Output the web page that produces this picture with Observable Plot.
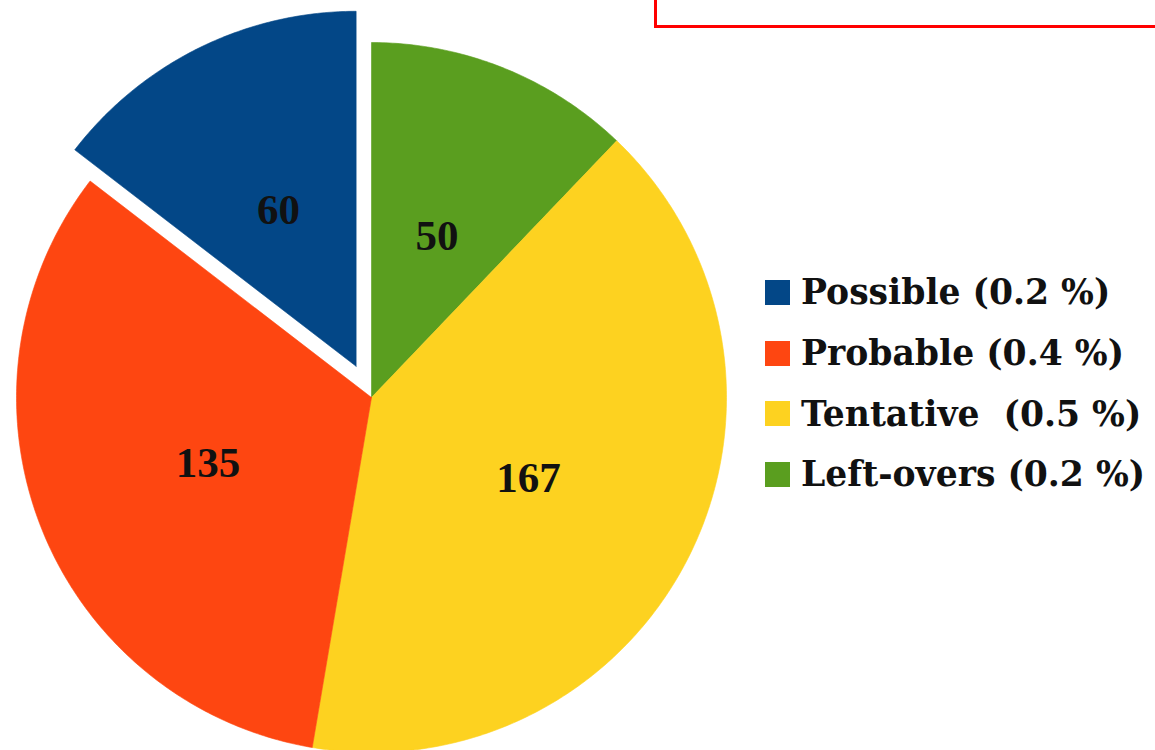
<!DOCTYPE html>
<html>
<head>
<meta charset="utf-8">
<script src="https://cdn.jsdelivr.net/npm/d3@7"></script>
<script src="https://cdn.jsdelivr.net/npm/@observablehq/plot@0.6"></script>
<style>
  body { margin: 0; background: #fff; }
  #wrap { position: relative; width: 1155px; height: 750px; overflow: hidden; }
  #box { position: absolute; left: 654px; top: -10px; width: 520px; height: 32px; border: 3px solid #ff0000; box-sizing: content-box; }
  #legend { position: absolute; left: 765px; top: 262px; font-family: "DejaVu Serif", serif; font-weight: bold; font-size: 34.6px; color: #111; }
  .row { display: flex; align-items: center; height: 60.7px; white-space: pre; }
  .sw { width: 25px; height: 25px; margin-right: 11px; }
</style>
</head>
<body>
<div id="wrap">
  <div id="chart"></div>
  <div id="box"></div>
  <div id="legend"></div>
</div>
<script>
// Data (clockwise from 12 o'clock)
const categories = ["Left-overs", "Tentative", "Probable", "Possible"];
const values = [50, 167, 135, 60];
const colors = ["#5a9e1f", "#fdd220", "#fe4611", "#034787"];
const explode = [0, 0, 0, 0.098];
// Legend order and texts
const legendOrder = ["Possible", "Probable", "Tentative", "Left-overs"];
const legendText = ["Possible (0.2 %)", "Probable (0.4 %)", "Tentative  (0.5 %)", "Left-overs (0.2 %)"];

const arcs = d3.pie().sort(null).value(d => d)(values);
const polys = [];
const labels = [];
arcs.forEach((a, i) => {
  const mid = (a.startAngle + a.endAngle) / 2;
  const ox = explode[i] * Math.sin(mid), oy = explode[i] * Math.cos(mid);
  const n = Math.max(2, Math.ceil((a.endAngle - a.startAngle) / 0.01));
  polys.push({key: categories[i], x: ox, y: oy});
  for (let k = 0; k <= n; k++) {
    const t = a.startAngle + (a.endAngle - a.startAngle) * k / n;
    polys.push({key: categories[i], x: ox + Math.sin(t), y: oy + Math.cos(t)});
  }
  polys.push({key: categories[i], x: ox, y: oy});
  labels.push({key: categories[i], value: values[i], x: ox + 0.495 * Math.sin(mid), y: oy + 0.495 * Math.cos(mid)});
});

const R = 355, CX = 371, CY = 397, W = 1155, H = 750;
const chart = Plot.plot({
  width: W, height: H,
  margin: 0,
  x: {domain: [-CX / R, (W - CX) / R], range: [0, W], axis: null},
  y: {domain: [-(H - CY) / R, CY / R], range: [H, 0], axis: null},
  color: {domain: categories, range: colors},
  style: {background: "white", overflow: "visible"},
  marks: [
    Plot.line(polys, {x: "x", y: "y", z: "key", fill: "key", stroke: "key", strokeWidth: 0.6, curve: "linear"}),
    Plot.text(labels, {x: "x", y: "y", dy: 2, text: d => String(d.value), fill: "#111", fontSize: 43, fontWeight: "bold", fontFamily: "Liberation Serif, serif"})
  ]
});
document.getElementById("chart").appendChild(chart);

const legend = document.getElementById("legend");
legendOrder.forEach((k, i) => {
  const row = document.createElement("div");
  row.className = "row";
  const sw = document.createElement("div");
  sw.className = "sw";
  sw.style.background = colors[categories.indexOf(k)];
  const tx = document.createElement("span");
  tx.textContent = legendText[i];
  row.appendChild(sw); row.appendChild(tx);
  legend.appendChild(row);
});
</script>
</body>
</html>
